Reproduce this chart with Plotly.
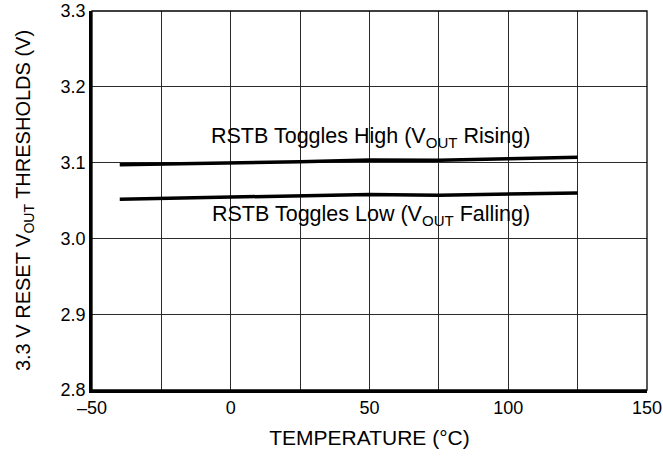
import plotly.graph_objects as go

temp = [-40, 0, 25, 50, 75, 100, 125]
v_high = [3.097, 3.099, 3.101, 3.1035, 3.103, 3.105, 3.107]
v_low = [3.0517, 3.054, 3.056, 3.058, 3.057, 3.059, 3.060]

x_ticks = [-50, 0, 50, 100, 150]
x_ticktext = ["\u201350", "0", "50", "100", "150"]
x_minor_grid = [-25, 25, 75, 125]
y_ticks = [2.8, 2.9, 3.0, 3.1, 3.2, 3.3]

font = "Liberation Sans, Arial, Helvetica, sans-serif"
grid = "#2a2a2a"

fig = go.Figure()
fig.add_trace(go.Scatter(x=temp, y=v_high, mode="lines",
                         line=dict(color="black", width=3.5), showlegend=False))
fig.add_trace(go.Scatter(x=temp, y=v_low, mode="lines",
                         line=dict(color="black", width=3.5), showlegend=False))

fig.add_annotation(x=50.5, y=3.133, text="RSTB Toggles High (V<sub>OUT</sub> Rising)",
                   showarrow=False, font=dict(family=font, size=21.5, color="black"))
fig.add_annotation(x=50.5, y=3.030, text="RSTB Toggles Low (V<sub>OUT</sub> Falling)",
                   showarrow=False, font=dict(family=font, size=21.5, color="black"))

fig.update_xaxes(range=[-50, 150], automargin=False,
                 tickvals=x_ticks, ticktext=x_ticktext,
                 showgrid=True, gridcolor=grid, gridwidth=1,
                 showline=True, linecolor="black", linewidth=2.5, mirror=False,
                 zeroline=False, ticks="",
                 minor=dict(tickvals=x_minor_grid, showgrid=True, gridcolor=grid, gridwidth=1),
                 title=dict(text="TEMPERATURE (°C)", standoff=13,
                            font=dict(family=font, size=21, color="black")),
                 tickfont=dict(family=font, size=18, color="black"))
fig.update_yaxes(range=[2.8, 3.3], tickvals=y_ticks, tickformat=".1f", automargin=False,
                 showgrid=True, gridcolor=grid, gridwidth=1,
                 showline=True, linecolor="black", linewidth=2.5, mirror=False,
                 zeroline=False, ticks="",
                 title=dict(text="3.3 V RESET V<sub>OUT</sub> THRESHOLDS (V)", standoff=25,
                            font=dict(family=font, size=20, color="black")),
                 tickfont=dict(family=font, size=18, color="black"))

fig.add_shape(type="rect", xref="paper", yref="paper", x0=0, x1=1, y0=0, y1=1,
              line=dict(color="black", width=1.3), layer="above")

fig.update_layout(width=663, height=465,
                  margin=dict(l=92, r=16, t=11, b=75),
                  plot_bgcolor="white", paper_bgcolor="white",
                  font=dict(family=font, color="black"))

fig.write_html("out.html", config={"displayModeBar": False},
               post_script="document.body.style.margin='0';")
